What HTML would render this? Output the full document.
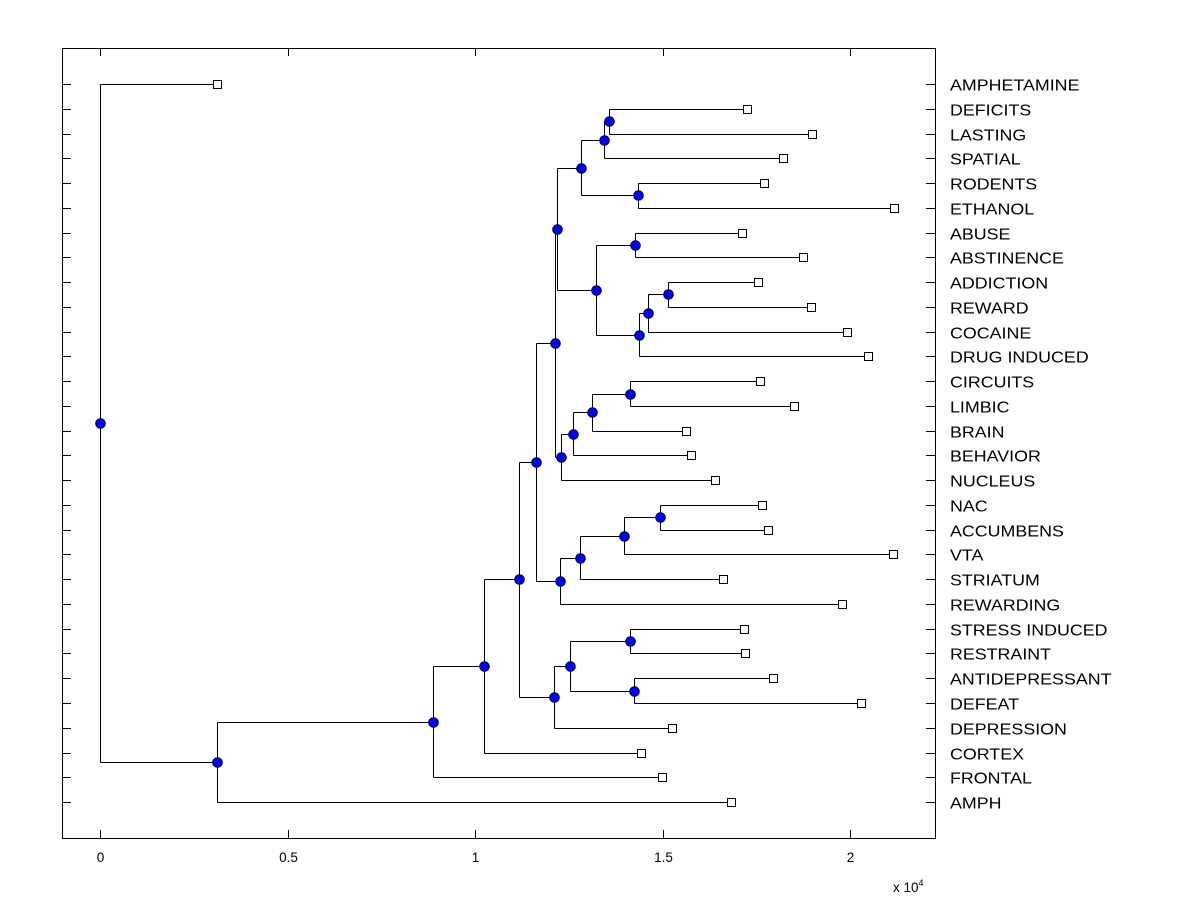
<!DOCTYPE html>
<html><head><meta charset="utf-8"><style>
body{margin:0;background:#fff;}
svg{display:block;font-family:"Liberation Sans",Arial,sans-serif;}
</style></head><body>
<svg id="chart" width="1200" height="900" viewBox="0 0 1200 900"></svg>
<script>
// leaf data
const leafNames=["AMPHETAMINE","DEFICITS","LASTING","SPATIAL","RODENTS","ETHANOL","ABUSE","ABSTINENCE","ADDICTION","REWARD","COCAINE","DRUG INDUCED","CIRCUITS","LIMBIC","BRAIN","BEHAVIOR","NUCLEUS","NAC","ACCUMBENS","VTA","STRIATUM","REWARDING","STRESS INDUCED","RESTRAINT","ANTIDEPRESSANT","DEFEAT","DEPRESSION","CORTEX","FRONTAL","AMPH"];
const leafHeights=[0.312,1.725,1.899,1.821,1.771,2.117,1.712,1.875,1.755,1.896,1.992,2.048,1.76,1.851,1.563,1.576,1.64,1.765,1.781,2.115,1.661,1.979,1.717,1.72,1.795,2.029,1.525,1.443,1.499,1.683];
// internal nodes: children (leaf index "Lk" or node name) and height
const nodeNames=["n609","n604","n638","n581b","n635","n668","n648","n639","n596","n557","n630b","n592","n573","n561","n555","n660","n624","n581","n560","n536","n630","n634","n570","n554","n519","n484","n433","n217","root"];
const nodeChildren=[["L1","L2"],["n609","L3"],["L4","L5"],["n604","n638"],["L6","L7"],["L8","L9"],["n668","L10"],["n648","L11"],["n635","n639"],["n581b","n596"],["L12","L13"],["n630b","L14"],["n592","L15"],["n573","L16"],["n557","n561"],["L17","L18"],["n660","L19"],["n624","L20"],["n581","L21"],["n555","n560"],["L22","L23"],["L24","L25"],["n630","n634"],["n570","L26"],["n536","n554"],["n519","L27"],["n484","L28"],["n433","L29"],["L0","n217"]];
const nodeHeights=[1.357,1.344,1.435,1.283,1.427,1.515,1.461,1.437,1.323,1.219,1.413,1.312,1.261,1.229,1.213,1.493,1.397,1.28,1.227,1.163,1.413,1.424,1.253,1.211,1.117,1.024,0.888,0.312,0];
const xTicks=[0,0.5,1,1.5,2];
const xTickLabels=["0","0.5","1","1.5","2"];

const NS="http://www.w3.org/2000/svg";
const svg=document.getElementById('chart');
const L=62,R=935,T=48,B=838;
const xS=v=>100+375*v;
const yS=i=>84+i*24.76;
function mk(tag,at,parent){const e=document.createElementNS(NS,tag);for(const k in at)e.setAttribute(k,at[k]);(parent||svg).appendChild(e);return e;}
function line(x1,y1,x2,y2,name){const e=mk('line',{x1,y1,x2,y2,stroke:'#000','stroke-width':1});

return e;}

const box=mk('rect',{x:L+0.5,y:T+0.5,width:R-L,height:B-T,fill:'none',stroke:'#000'});



// x ticks
xTicks.forEach((t,i)=>{const x=Math.round(xS(t))+0.5;
line(x,T,x,T+8,'x-tick-top');line(x,B,x,B-8,'x-tick-bottom');
const tx=mk('text',{x:x,y:862,'text-anchor':'middle','font-size':13.5});tx.textContent=xTickLabels[i];

});
const mult=mk('text',{x:893,y:892,'font-size':13.5});mult.innerHTML='x 10<tspan dy="-6" font-size="9">4</tspan>';



// y ticks and labels
leafNames.forEach((n,i)=>{const y=Math.round(yS(i))+0.5;
line(L,y,L+9,y,'y-tick-left');line(R,y,R-9,y,'y-tick-right');
const tx=mk('text',{x:0,y:0,'font-size':16,transform:'translate(950,'+(y+6)+') scale(1.115,1)'});tx.textContent=n;

});

// compute positions
const pos={};
leafNames.forEach((n,i)=>pos['L'+i]={x:xS(leafHeights[i]),y:yS(i)});
nodeNames.forEach((n,i)=>{const a=pos[nodeChildren[i][0]],b=pos[nodeChildren[i][1]];
pos[n]={x:xS(nodeHeights[i]),y:(a.y+b.y)/2};});
// branches
nodeNames.forEach((n,i)=>{const p=pos[n];const x=Math.round(p.x)+0.5;
const cs=nodeChildren[i].map(c=>pos[c]);
line(x,Math.round(cs[0].y)+0.5,x,Math.round(cs[1].y)+0.5,'branch-vertical');
cs.forEach(c=>line(x,Math.round(c.y)+0.5,Math.round(c.x)+0.5,Math.round(c.y)+0.5,'branch-horizontal'));});
// leaf markers
leafNames.forEach((n,i)=>{const p=pos['L'+i];
const r=mk('rect',{x:Math.round(p.x)-3.5,y:Math.round(p.y)-3.5,width:8,height:8,fill:'#fff',stroke:'#000'});

});
// node markers
nodeNames.forEach(n=>{const p=pos[n];
const c=mk('circle',{cx:Math.round(p.x)+0.5,cy:Math.round(p.y)+0.5,r:4.8,fill:'#0000ff',stroke:'#000033','stroke-width':1});

});
</script>
</body></html>
